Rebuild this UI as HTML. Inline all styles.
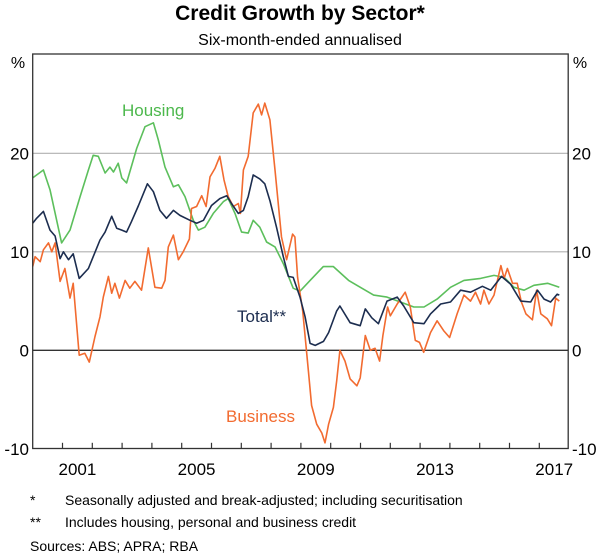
<!DOCTYPE html>
<html><head><meta charset="utf-8"><style>
body{margin:0;background:#fff;}
svg{display:block;font-family:"Liberation Sans",Arial,sans-serif;}
</style></head><body>
<svg id="chart" width="600" height="555" viewBox="0 0 600 555">
<text x="300" y="20" text-anchor="middle" font-size="21" font-weight="bold">Credit Growth by Sector*</text>
<text x="300" y="45" text-anchor="middle" font-size="16">Six-month-ended annualised</text>
<text x="18" y="68" text-anchor="middle" font-size="16">%</text>
<text x="580" y="68" text-anchor="middle" font-size="16">%</text>
<g id="grid"></g>
<g id="series"></g>
<rect x="32.7" y="54" width="535.5" height="394.5" fill="none" stroke="#333" stroke-width="1.3"/>
<g id="ticks"></g>
<text x="122" y="116" font-size="17" fill="#4cb84c">Housing</text>
<text x="237" y="322" font-size="17" fill="#1c2d4f">Total**</text>
<text x="226" y="422" font-size="17" fill="#f26b30">Business</text>
<g font-size="14">
<text x="30" y="505">*</text>
<text x="65" y="505">Seasonally adjusted and break-adjusted; including securitisation</text>
<text x="30" y="527">**</text>
<text x="65" y="527">Includes housing, personal and business credit</text>
<text x="30" y="551">Sources: ABS; APRA; RBA</text>
</g>
</svg>
<script>
const yTicks=[-10,0,10,20];
const yTickLabels=["-10","0","10","20"];
const xTickYears=[2001,2002,2003,2004,2005,2006,2007,2008,2009,2010,2011,2012,2013,2014,2015,2016,2017];
const xLabelYears=[2001,2005,2009,2013,2017];
const housingDates=[2000.0,2000.36,2000.58,2000.97,2001.25,2001.59,2001.87,2002.03,2002.2,2002.43,2002.59,2002.71,2002.87,2002.99,2003.15,2003.49,2003.77,2004.05,2004.21,2004.44,2004.72,2004.89,2005.11,2005.39,2005.56,2005.78,2006.06,2006.4,2006.56,2006.79,2007.01,2007.23,2007.4,2007.62,2007.85,2008.13,2008.41,2008.74,2008.97,2009.31,2009.75,2010.09,2010.6,2010.88,2011.44,2011.89,2012.34,2012.79,2013.13,2013.57,2014.02,2014.47,2015.03,2015.48,2015.82,2016.15,2016.49,2016.82,2017.28,2017.67];
const housingValues=[17.5,18.3,16.3,10.9,12.2,15.6,18.3,19.8,19.7,18.0,18.6,18.1,19.0,17.5,17.0,20.5,22.7,23.1,21.4,18.6,16.6,16.8,15.6,13.2,12.2,12.5,13.9,15.1,15.4,13.9,12.0,11.9,13.2,12.5,11.0,10.5,8.8,6.3,6.0,7.1,8.5,8.5,7.1,6.6,5.6,5.4,4.9,4.4,4.4,5.2,6.4,7.1,7.3,7.6,7.4,6.4,6.1,6.6,6.8,6.4];
const totalDates=[2000.0,2000.13,2000.36,2000.58,2000.75,2000.92,2001.03,2001.2,2001.36,2001.56,2001.87,2002.03,2002.26,2002.43,2002.65,2002.82,2002.99,2003.15,2003.32,2003.55,2003.85,2004.05,2004.27,2004.49,2004.72,2004.94,2005.28,2005.5,2005.73,2006.0,2006.28,2006.51,2006.67,2006.9,2007.07,2007.23,2007.4,2007.62,2007.79,2007.96,2008.18,2008.41,2008.58,2008.74,2008.97,2009.14,2009.31,2009.48,2009.76,2009.93,2010.2,2010.31,2010.65,2010.99,2011.16,2011.38,2011.6,2011.89,2012.23,2012.45,2012.79,2013.13,2013.35,2013.69,2014.02,2014.36,2014.69,2015.09,2015.37,2015.73,2016.04,2016.38,2016.71,2016.94,2017.16,2017.38,2017.6,2017.67];
const totalValues=[12.9,13.4,14.1,12.2,11.6,9.3,10.0,9.2,9.8,7.3,8.3,9.5,11.2,12.0,13.6,12.4,12.2,12.0,13.1,14.7,16.9,16.1,14.2,13.4,14.2,13.7,13.2,12.9,13.2,14.7,15.4,15.7,14.9,13.9,14.2,15.6,17.8,17.4,16.9,15.2,12.5,9.5,7.5,7.4,5.4,3.4,0.7,0.5,0.9,1.8,4.0,4.5,2.8,2.5,4.2,3.3,2.7,5.0,5.4,4.5,2.8,2.7,3.7,4.7,4.9,6.1,5.9,6.5,6.1,7.5,6.7,5.0,4.9,6.1,5.2,4.9,5.7,5.6];
const businessDates=[2000.0,2000.08,2000.25,2000.36,2000.53,2000.64,2000.75,2000.92,2001.08,2001.25,2001.36,2001.56,2001.75,2001.9,2002.09,2002.26,2002.37,2002.54,2002.65,2002.76,2002.91,2003.1,2003.26,2003.43,2003.65,2003.88,2004.1,2004.33,2004.44,2004.55,2004.72,2004.89,2005.05,2005.26,2005.33,2005.5,2005.67,2005.82,2005.95,2006.12,2006.28,2006.42,2006.56,2006.73,2006.9,2006.97,2007.07,2007.23,2007.4,2007.57,2007.68,2007.79,2007.96,2008.13,2008.35,2008.52,2008.72,2008.8,2008.89,2009.06,2009.25,2009.36,2009.53,2009.7,2009.81,2009.93,2010.09,2010.2,2010.31,2010.48,2010.65,2010.88,2010.99,2011.16,2011.33,2011.49,2011.64,2011.75,2011.91,2012.0,2012.23,2012.5,2012.67,2012.84,2012.98,2013.12,2013.35,2013.57,2013.79,2013.99,2014.24,2014.47,2014.69,2014.86,2015.03,2015.14,2015.31,2015.48,2015.71,2015.82,2015.93,2016.1,2016.26,2016.4,2016.55,2016.77,2016.91,2017.05,2017.27,2017.41,2017.55,2017.67];
const businessValues=[8.5,9.5,9.0,10.2,10.9,10.0,10.9,7.0,8.3,5.3,6.8,-0.5,-0.3,-1.2,1.4,3.4,5.4,7.5,5.8,6.8,5.3,7.1,6.3,7.0,6.1,10.4,6.4,6.3,7.1,10.5,11.7,9.2,10.0,11.3,14.4,14.6,15.7,14.6,17.6,18.5,19.7,17.3,15.6,14.6,14.9,13.9,18.3,19.7,24.1,25.0,23.9,25.1,23.4,18.3,11.5,9.2,11.8,11.5,7.4,4.0,-2.1,-5.6,-7.5,-8.4,-9.4,-7.5,-5.8,-3.1,0.0,-1.1,-2.9,-3.6,-2.8,1.5,0.0,0.2,-1.1,1.5,4.4,3.5,4.7,5.9,4.4,1.0,0.8,-0.2,1.8,3.0,2.0,1.3,3.7,5.6,5.0,5.9,4.7,6.1,4.7,5.6,8.6,7.3,8.3,6.8,6.8,4.9,3.7,3.1,6.1,3.7,3.2,2.5,5.3,5.0];

const NS="http://www.w3.org/2000/svg";
const X0=32.7,X1=568.2,PX_PER_YEAR=29.8,Y0=350.3,PX_PER_UNIT=9.85;
function xScale(yr){return X0+(yr-2000)*PX_PER_YEAR;}
function yScale(v){return Y0-v*PX_PER_UNIT;}
function mk(tag,attrs,parent){const e=document.createElementNS(NS,tag);for(const k in attrs)e.setAttribute(k,attrs[k]);parent.appendChild(e);return e;}
const grid=document.getElementById('grid'),ticks=document.getElementById('ticks'),series=document.getElementById('series');
yTicks.forEach((v,i)=>{
  if(v>-10){
    const g=mk('line',{x1:X0,x2:X1,y1:yScale(v),y2:yScale(v),stroke:v===0?'#333':'#b0b0b0','stroke-width':v===0?1.3:1.2},grid);
    
    
  }
  const l=mk('text',{x:29,y:yScale(v)+6,'text-anchor':'end','font-size':17},ticks);
  l.textContent=yTickLabels[i];
  
  
  const r=mk('text',{x:572,y:yScale(v)+6,'text-anchor':'start','font-size':17},ticks);
  r.textContent=yTickLabels[i];
  
  
});
xTickYears.forEach(yr=>{
  const t=mk('line',{x1:xScale(yr),x2:xScale(yr),y1:yScale(-10),y2:yScale(-10)-6,stroke:'#333','stroke-width':1.2},ticks);
  
  
});
xLabelYears.forEach(yr=>{
  const t=mk('text',{x:xScale(yr+0.5),y:475,'text-anchor':'middle','font-size':17},ticks);
  t.textContent=String(yr);
  
  
});
function drawLine(dates,vals,color,name){
  const d=dates.map((t,i)=>(i?'L':'M')+xScale(t).toFixed(1)+' '+yScale(vals[i]).toFixed(1)).join(' ');
  const p=mk('path',{d:d,fill:'none',stroke:color,'stroke-width':1.6,'stroke-linejoin':'round'},series);
  
  
}
drawLine(housingDates,housingValues,'#5cbf5c','housing-line');
drawLine(businessDates,businessValues,'#f26b30','business-line');
drawLine(totalDates,totalValues,'#1c2d4f','total-line');
</script>
</body></html>
